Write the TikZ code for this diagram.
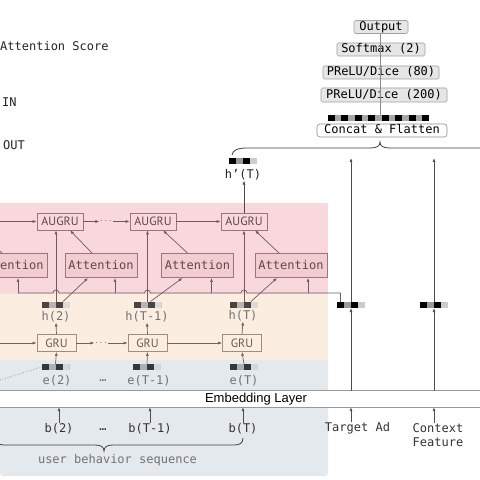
\documentclass[tikz,border=0pt]{standalone}
\usepackage{fontspec}
\usepackage{xcolor}
\usepackage{tikz}
\usetikzlibrary{arrows.meta}
\newfontfamily\codefont{DejaVu Sans Mono}
\newfontfamily\gillfont{PT Sans}
\newfontfamily\embfont{Liberation Sans}
\definecolor{augbg}{HTML}{F8D8DC}
\definecolor{grubg}{HTML}{FCEDE1}
\definecolor{embbg}{HTML}{E3E9ED}
\definecolor{attfill}{HTML}{F3CCD1}
\definecolor{mauve}{HTML}{9E7479}
\definecolor{mauvetxt}{HTML}{5E474A}
\definecolor{arrpink}{HTML}{725A5E}
\definecolor{grubrd}{HTML}{A08D7E}
\definecolor{grutxt}{HTML}{6A5D55}
\definecolor{arrgru}{HTML}{6F635C}
\definecolor{fcfill}{HTML}{E6E6E6}
\definecolor{fcbrd}{HTML}{A0A0A0}
\definecolor{hsq}{HTML}{4D4343}
\definecolor{esq}{HTML}{2F3A40}
\tikzset{
  >={Latex[length=4bp,width=3bp]},
  code/.style={font=\codefont\fontsize{12bp}{14bp}\selectfont, inner sep=0pt},
  fcbox/.style={code, draw=fcbrd, fill=fcfill, rounded corners=1.5bp, minimum height=13bp, text height=8.5bp, text depth=2bp, line width=0.6bp},
  catbox/.style={fcbox, fill=white, draw=black!45, rounded corners=3bp},
  augru/.style={font=\gillfont\fontsize{12bp}{14bp}\selectfont, draw=mauve, fill=augbg, text=mauvetxt, minimum width=46bp, minimum height=17bp, inner sep=0pt, line width=0.7bp},
  gru/.style={augru, draw=grubrd, fill=grubg, text=grutxt, minimum width=39bp},
  attn/.style={code, draw=mauve, fill=attfill, text=mauvetxt, minimum width=72bp, minimum height=24bp, line width=0.9bp},
  hlab/.style={code, text=black!55},
  blab/.style={code, text=black!80},
  dotsnode/.style={inner sep=0.5pt, font=\normalsize},
  vec/.style={minimum width=28bp, minimum height=6bp, inner sep=0pt, outer sep=0pt, fill=#1!40,
    path picture={
      \fill[#1] (path picture bounding box.south west) rectangle ++(7bp,6bp);
      \fill[#1] ([xshift=14bp]path picture bounding box.south west) rectangle ++(7bp,6bp);
      \fill[#1!20] ([xshift=21bp]path picture bounding box.south west) rectangle ++(7bp,6bp);
    }},
  flat/.style={minimum width=101bp, minimum height=6bp, inner sep=0pt, outer sep=0pt, fill=black!35,
    path picture={
      \foreach \i in {0,...,7}
        \fill[black] ([xshift=\i*13.47bp]path picture bounding box.south west) rectangle ++(6.73bp,6bp);
    }},
  arrp/.style={->, draw=arrpink, line width=0.7bp},
  busline/.style={draw=arrpink, line width=0.7bp},
  arrg/.style={->, draw=arrgru, line width=0.7bp},
  arrd/.style={->, draw=black!70, line width=0.7bp},
  stackline/.style={draw=black!45, line width=0.6bp},
  bracel/.style={draw=black!75, line width=0.8bp},
  auxline/.style={draw=black!45, dotted, line width=0.7bp},
}

\begin{document}
\begin{tikzpicture}[x=1bp,y=1bp]
\useasboundingbox (0,0) rectangle (480,-480);
\fill[white] (0,0) rectangle (480,-480);
\fill[augbg] (0,-203) rectangle (328,-294);
\fill[grubg] (0,-294) rectangle (328,-360);
\fill[embbg] (0,-360) -- (328,-360) [rounded corners=3bp] -- (328,-476) -- (0,-476) [sharp corners] -- cycle;

\node[code, anchor=west, text=black!85] (lgatt) at (0,-46) {Attention Score};
\node[code, anchor=west, text=black!85] (lgin) at (2,-102) {IN};
\node[code, anchor=west, text=black!85] (lgout) at (3,-145) {OUT};

\node[fcbox, minimum width=54bp] (out) at (381,-27) {Output};
\node[fcbox, minimum width=88bp] (soft) at (381,-49.5) {Softmax (2)};
\node[fcbox, minimum width=116bp] (fc80) at (381,-72.5) {PReLU/Dice (80)};
\node[fcbox, minimum width=126bp, minimum height=14bp] (fc200) at (384,-95) {PReLU/Dice (200)};
\node[flat] (flatv) at (378.5,-118) {};
\node[catbox, minimum width=130bp] (cat) at (382,-130.5) {Concat \& Flatten};
\draw[stackline] ([xshift=1.5bp]flatv.north) -- ([xshift=-1bp]out.south);

\node[vec=black] (hpsq) at (243,-161) {};
\node[hlab, text=black!85] (hpl) at (243,-175) {h’(T)};
\draw[bracel] ([xshift=3bp,yshift=3bp]hpsq.north west) .. controls (233,-150) and (237,-148) .. (248,-148) -- (370,-148) .. controls (377,-148) and (380,-146) .. (380,-142) .. controls (380,-146) and (383,-148) .. (390,-148) -- (480,-148);
\coordinate (brcy) at (0,-158);

\node[attn] (att1) at (11,-265.5) {Attention};
\node[attn] (att2) at (101,-265.5) {Attention};
\node[attn] (attT1) at (197.5,-265.5) {Attention};
\node[attn] (attT) at (291,-265.5) {Attention};

\node[augru] (aug2) at (60,-221.5) {AUGRU};
\node[augru] (augT1) at (153,-221.5) {AUGRU};
\node[augru] (augT) at (244,-221.5) {AUGRU};
\node[dotsnode, text=arrpink] (augd) at (106,-221.5) {$\cdots$};
\coordinate (augin) at (0,-221.5);

\node[gru] (gru2) at (56.5,-343) {GRU};
\node[gru] (gruT1) at (147.5,-343) {GRU};
\node[gru] (gruT) at (242,-343) {GRU};
\node[dotsnode, text=arrgru] (grud) at (101,-343) {$\cdots$};
\coordinate (gruin) at (0,-343);

\node[vec=hsq] (hsq2) at (56,-304.5) {};
\node[vec=hsq] (hsqT1) at (147.5,-304.5) {};
\node[vec=hsq] (hsqT) at (244,-304.5) {};
\node[hlab] (hl2) at (56,-317) {h(2)};
\node[hlab] (hlT1) at (147,-317) {h(T-1)};
\node[hlab] (hlT) at (243,-316) {h(T)};

\node[vec=esq] (esq2) at (55.5,-367) {};
\node[vec=esq] (esqT1) at (147,-367) {};
\node[vec=esq] (esqT) at (244,-367) {};
\node[hlab] (el2) at (57,-380.5) {e(2)};
\node[hlab] (eld) at (103,-381) {\ldots};
\node[hlab] (elT1) at (149,-380.5) {e(T-1)};
\node[hlab] (elT) at (244,-381) {e(T)};
\coordinate (auxL) at (0,-380);

\node[fill=white, minimum width=480bp, minimum height=16bp, inner sep=0pt] (emb) at (240,-399) {};
\draw[black!40, line width=0.8bp] (emb.north west) -- (emb.north east);
\draw[black!40, line width=0.8bp] (emb.south west) -- (emb.south east);
\node[font=\embfont\fontsize{13bp}{15bp}\selectfont, inner sep=0pt] (embt) at (256,-399) {Embedding Layer};

\node[blab] (b2) at (59,-429) {b(2)};
\node[blab] (bd) at (103,-430) {\ldots};
\node[blab] (bT1) at (150,-429) {b(T-1)};
\node[blab] (bT) at (243,-429) {b(T)};
\node[hlab] (ubs) at (117.5,-460) {user behavior sequence};
\draw[bracel] (-6,-440) .. controls (-2,-445) and (0,-445) .. (8,-445) -- (95,-445) .. controls (101,-445) and (104,-447) .. (104,-451) .. controls (104,-447) and (107,-445) .. (113,-445) -- (234,-445) .. controls (240,-445) and (243,-443) .. (243,-438);

\node[vec=black] (tad) at (351,-305) {};
\node[vec=black] (cf) at (434,-305) {};
\node[blab] (tadl) at (357.5,-428) {Target Ad};
\node[blab, align=center] (cfl) at (438,-435) {Context\\Feature};

\draw[arrd] (b2.north) -- (b2.north |- emb.south);
\draw[arrd] (bT1.north) -- (bT1.north |- emb.south);
\draw[arrd] (bT.north) -- (bT.north |- emb.south);
\draw[arrd] (tadl.north -| tad) -- (tad |- emb.south);
\draw[arrd] (cfl.north -| cf) -- (cf |- emb.south);
\draw[arrd] (tad |- emb.north) -- (tad.south);
\draw[arrd] (cf |- emb.north) -- (cf.south);
\draw[arrd] (tad.north) -- (tad.north |- brcy);
\draw[arrd] (cf.north) -- (cf.north |- brcy);

\draw[auxline] (auxL) -- (esq2.west);
\draw[arrg] (esq2.north) -- (gru2.south);
\draw[arrg] (esqT1.north) -- (gruT1.south);
\draw[arrg] (esqT.north) -- (gruT.south);
\draw[arrg] (gruin) -- (gru2.west);
\draw[arrg] (gru2.east) -- (grud.west);
\draw[arrg] (grud.east) -- (gruT1.west);
\draw[arrg] (gruT1.east) -- (gruT.west);
\draw[arrg] (gru2.north) -- (hl2.south);
\draw[arrg] (gruT1.north) -- (hlT1.south);
\draw[arrg] (gruT.north) -- (hlT.south);

\coordinate (busL) at ([xshift=7bp]att1.south |- 0,-293);
\draw[busline] ([xshift=-10.5bp]tad.north) |- ([xshift=3bp]hsqT.north |- busL) arc[start angle=0, end angle=180, radius=3bp] -- ([xshift=3bp]hsqT1.north |- busL) arc[start angle=0, end angle=180, radius=3bp] -- ([xshift=3bp]hsq2.north |- busL) arc[start angle=0, end angle=180, radius=3bp] -- (busL);
\draw[arrp] (busL) -- ([xshift=7bp]att1.south);
\draw[arrp] ([xshift=14bp]att2.south |- busL) -- ([xshift=14bp]att2.south);
\draw[arrp] ([xshift=14bp]attT1.south |- busL) -- ([xshift=14bp]attT1.south);
\draw[arrp] ([xshift=17bp]attT.south |- busL) -- ([xshift=17bp]attT.south);

\draw[arrp] (hsq2.north) -- (hsq2.north |- aug2.south);
\draw[arrp] (hsqT1.north) -- (hsqT1.north |- augT1.south);
\draw[arrp] (hsqT.north) -- (hsqT.north |- augT.south);
\draw[arrp] ([xshift=7bp]hsq2.north) -- ([xshift=-13bp]att2.south);
\draw[arrp] ([xshift=3bp]hsqT1.north) -- ([xshift=-15bp]attT1.south);
\draw[arrp] ([xshift=7bp]hsqT.north) -- ([xshift=-14bp]attT.south);
\draw[arrp] ([xshift=-9bp]att1.north) -- ++(-23bp,23bp);
\draw[arrp] ([xshift=-9bp]att2.north) -- ([xshift=10bp]aug2.south);
\draw[arrp] ([xshift=-10bp]attT1.north) -- ([xshift=10bp]augT1.south);
\draw[arrp] ([xshift=-12bp]attT.north) -- ([xshift=11bp]augT.south);

\draw[arrp] (augin) -- (aug2.west);
\draw[arrp] (aug2.east) -- (augd.west);
\draw[arrp] (augd.east) -- (augT1.west);
\draw[arrp] (augT1.east) -- (augT.west);
\draw[arrd] (augT.north) -- (augT.north |- hpl.south);
\end{tikzpicture}
\end{document}
